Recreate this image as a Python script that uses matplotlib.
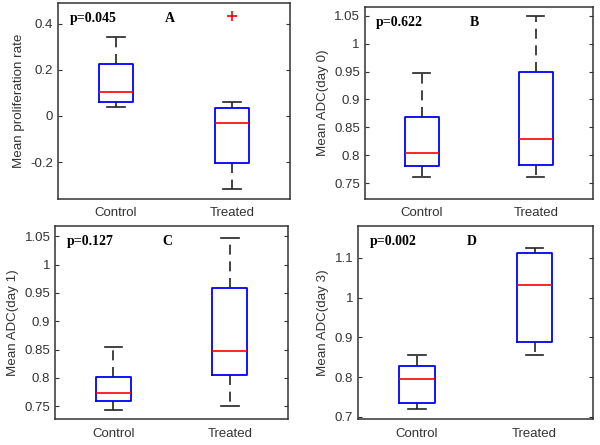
import matplotlib
matplotlib.use("Agg")
import matplotlib.pyplot as plt

groups = ["Control", "Treated"]

# five-number summaries: low whisker, Q1, median, Q3, high whisker
prolif_ctrl = [0.038, 0.062, 0.104, 0.226, 0.342]
prolif_trt = [-0.319, -0.203, -0.032, 0.033, 0.062]
prolif_trt_fliers = [0.436]

adc0_ctrl = [0.762, 0.781, 0.804, 0.869, 0.948]
adc0_trt = [0.762, 0.783, 0.830, 0.950, 1.050]

adc1_ctrl = [0.744, 0.760, 0.774, 0.801, 0.854]
adc1_trt = [0.751, 0.805, 0.847, 0.959, 1.047]

adc3_ctrl = [0.719, 0.735, 0.795, 0.829, 0.855]
adc3_trt = [0.855, 0.887, 1.031, 1.111, 1.125]

p_values = ["p=0.045", "p=0.622", "p=0.127", "p=0.002"]
letters = ["A", "B", "C", "D"]
ylabels = ["Mean proliferation rate", "Mean ADC(day 0)", "Mean ADC(day 1)", "Mean ADC(day 3)"]
yticks = [[-0.2, 0, 0.2, 0.4],
          [0.75, 0.8, 0.85, 0.9, 0.95, 1, 1.05],
          [0.75, 0.8, 0.85, 0.9, 0.95, 1, 1.05],
          [0.7, 0.8, 0.9, 1, 1.1]]
ytick_labels = [["-0.2", "0", "0.2", "0.4"],
                ["0.75", "0.8", "0.85", "0.9", "0.95", "1", "1.05"],
                ["0.75", "0.8", "0.85", "0.9", "0.95", "1", "1.05"],
                ["0.7", "0.8", "0.9", "1", "1.1"]]
ylims = [(-0.36, 0.49), (0.722, 1.066), (0.727, 1.068), (0.694, 1.18)]


def make_stats(five, label, fliers=()):
    return dict(whislo=five[0], q1=five[1], med=five[2], q3=five[3],
                whishi=five[4], fliers=list(fliers), label=label)


panels = [
    [make_stats(prolif_ctrl, groups[0]), make_stats(prolif_trt, groups[1], prolif_trt_fliers)],
    [make_stats(adc0_ctrl, groups[0]), make_stats(adc0_trt, groups[1])],
    [make_stats(adc1_ctrl, groups[0]), make_stats(adc1_trt, groups[1])],
    [make_stats(adc3_ctrl, groups[0]), make_stats(adc3_trt, groups[1])],
]

rects = [[0.097, 0.553, 0.386, 0.440],
         [0.608, 0.553, 0.380, 0.432],
         [0.092, 0.058, 0.388, 0.434],
         [0.597, 0.058, 0.392, 0.434]]

fig = plt.figure(figsize=(6, 4.45), dpi=100)
tick_font = {"family": "Liberation Sans", "size": 9.5}

for i, stats in enumerate(panels):
    ax = fig.add_axes(rects[i])
    ax.bxp(stats, positions=[1, 2], widths=0.3, showfliers=True,
           boxprops=dict(color="blue", linewidth=1.3),
           medianprops=dict(color="red", linewidth=1.2),
           whiskerprops=dict(color="#222222", linestyle=(0, (6, 4)), linewidth=1.2),
           capprops=dict(color="#222222", linewidth=1.2),
           capwidths=0.15,
           flierprops=dict(marker="+", markeredgecolor="red", markersize=7,
                           markeredgewidth=1.2, linestyle="none"))
    ax.set_xlim(0.5, 2.5)
    ax.set_ylim(*ylims[i])
    ax.set_yticks(yticks[i])
    ax.set_yticklabels(ytick_labels[i], fontdict=tick_font, color="#333333")
    ax.set_xticks([1, 2])
    ax.set_xticklabels(groups, fontdict=tick_font, color="#333333")
    ax.tick_params(direction="in", right=True, top=True, length=3, color="#333333")
    ax.tick_params(axis="x", length=0, pad=6)
    ax.set_ylabel(ylabels[i], family="Liberation Sans", fontsize=9.6, color="#333333")
    for s in ax.spines.values():
        s.set_color("#333333")
        s.set_linewidth(1.1)
    ax.text(0.05, 0.92, p_values[i], transform=ax.transAxes, family="Liberation Serif",
            fontweight="bold", fontsize=10, va="center", ha="left")
    ax.text(0.46, 0.92, letters[i], transform=ax.transAxes, family="Liberation Serif",
            fontweight="bold", fontsize=10, va="center", ha="left")

fig.savefig("out.png", dpi=100)
